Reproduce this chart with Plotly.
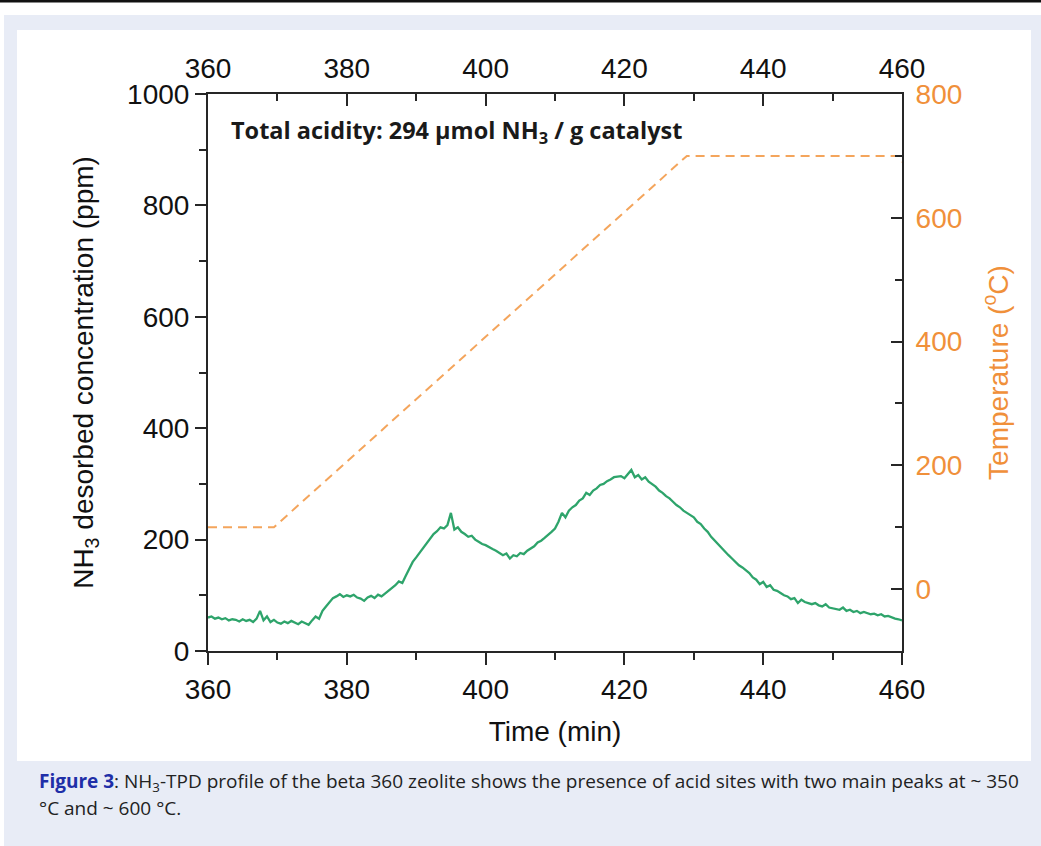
import plotly.graph_objects as go

# ---------------- data ----------------
time_min = [
    360.0, 360.5, 361.0, 361.5, 362.0, 362.5, 363.0, 363.5, 364.0, 364.5,
    365.0, 365.5, 366.0, 366.5, 367.0, 367.5, 368.0, 368.5, 369.0, 369.5,
    370.0, 370.5, 371.0, 371.5, 372.0, 372.5, 373.0, 373.5, 374.0, 374.5,
    375.0, 375.5, 376.0, 376.5, 377.0, 377.5, 378.0, 378.5, 379.0, 379.5,
    380.0, 380.5, 381.0, 381.5, 382.0, 382.5, 383.0, 383.5, 384.0, 384.5,
    385.0, 385.5, 386.0, 386.5, 387.0, 387.5, 388.0, 388.5, 389.0, 389.5,
    390.0, 390.5, 391.0, 391.5, 392.0, 392.5, 393.0, 393.5, 394.0, 394.5,
    395.0, 395.5, 396.0, 396.5, 397.0, 397.5, 398.0, 398.5, 399.0, 399.5,
    400.0, 400.5, 401.0, 401.5, 402.0, 402.5, 403.0, 403.5, 404.0, 404.5,
    405.0, 405.5, 406.0, 406.5, 407.0, 407.5, 408.0, 408.5, 409.0, 409.5,
    410.0, 410.5, 411.0, 411.5, 412.0, 412.5, 413.0, 413.5, 414.0, 414.5,
    415.0, 415.5, 416.0, 416.5, 417.0, 417.5, 418.0, 418.5, 419.0, 419.5,
    420.0, 420.5, 421.0, 421.5, 422.0, 422.5, 423.0, 423.5, 424.0, 424.5,
    425.0, 425.5, 426.0, 426.5, 427.0, 427.5, 428.0, 428.5, 429.0, 429.5,
    430.0, 430.5, 431.0, 431.5, 432.0, 432.5, 433.0, 433.5, 434.0, 434.5,
    435.0, 435.5, 436.0, 436.5, 437.0, 437.5, 438.0, 438.5, 439.0, 439.5,
    440.0, 440.5, 441.0, 441.5, 442.0, 442.5, 443.0, 443.5, 444.0, 444.5,
    445.0, 445.5, 446.0, 446.5, 447.0, 447.5, 448.0, 448.5, 449.0, 449.5,
    450.0, 450.5, 451.0, 451.5, 452.0, 452.5, 453.0, 453.5, 454.0, 454.5,
    455.0, 455.5, 456.0, 456.5, 457.0, 457.5, 458.0, 458.5, 459.0, 459.5,
    460.0,
]
nh3_ppm = [
    60, 62, 58, 60, 57, 59, 55, 57, 56, 53,
    57, 54, 56, 52, 58, 72, 55, 62, 52, 56,
    51, 49, 53, 50, 54, 51, 48, 53, 50, 47,
    55, 62, 58, 72, 80, 88, 95, 98, 102, 97,
    100, 98, 101, 96, 94, 90, 96, 99, 95, 101,
    98, 103, 108, 113, 118, 125, 122, 135, 148, 160,
    168, 176, 185, 192, 200, 210, 215, 222, 220, 226,
    248, 218, 222, 214, 210, 205, 207, 200, 196, 192,
    190, 186, 183, 180, 176, 172, 175, 166, 172, 170,
    176, 174, 180, 184, 188, 195, 198, 203, 208, 214,
    220, 232, 248, 240, 252, 258, 262, 270, 274, 284,
    280, 288, 292, 298, 300, 305, 308, 312, 313, 314,
    310, 318, 325, 312, 316, 308, 312, 304, 300, 295,
    288, 284, 278, 274, 268, 262, 258, 252, 248, 244,
    240, 232, 228, 220, 214, 205, 198, 192, 186, 178,
    172, 166, 160, 154, 150, 145, 140, 132, 128, 120,
    124, 115, 118, 110, 108, 104, 100, 98, 93, 95,
    86, 92, 88, 86, 84, 86, 82, 80, 84, 78,
    77, 76, 74, 78, 72, 74, 70, 72, 68, 70,
    68, 66, 67, 64, 66, 62, 63, 60, 58, 57,
    55,
]
temp_time = [360, 369.5, 429, 459.6, 460]
temp_c = [100, 100, 700, 700, 690]

x_ticks = [360, 380, 400, 420, 440, 460]
y_left_ticks = [0, 200, 400, 600, 800, 1000]
y_right_ticks = [0, 200, 400, 600, 800]

# ---------------- layout geometry (pixels) ----------------
W, H = 1041, 846
L, R, T, B = 208, 902, 94, 651


def px(xp):
    return (xp - L) / (R - L)


def py(yp):
    return (B - yp) / (B - T)


GREEN = "#2ea46b"
ORANGE_LINE = "#f4a55c"
ORANGE_TXT = "#f0903a"
AX = "#262626"
FONT = "Liberation Sans, Arial, sans-serif"

fig = go.Figure()
fig.add_trace(go.Scatter(x=time_min, y=nh3_ppm, mode="lines",
                         line=dict(color=GREEN, width=2.3), xaxis="x", yaxis="y",
                         showlegend=False, hoverinfo="skip"))
fig.add_trace(go.Scatter(x=temp_time, y=temp_c, mode="lines",
                         line=dict(color=ORANGE_LINE, width=2, dash="9px,6px"),
                         xaxis="x", yaxis="y2", showlegend=False, hoverinfo="skip"))
fig.add_trace(go.Scatter(x=[360, 460], y=[None, None], mode="lines",
                         xaxis="x2", yaxis="y", showlegend=False, hoverinfo="skip"))

tickfont = dict(family=FONT, size=28, color="#111111")

fig.update_layout(
    width=W, height=H,
    margin=dict(l=L, r=W - R, t=T, b=H - B, pad=0),
    paper_bgcolor="white", plot_bgcolor="rgba(0,0,0,0)",
    xaxis=dict(range=[360, 460], tickvals=x_ticks, ticks="outside", ticklen=12,
               tickwidth=2, tickcolor=AX, showline=True, linecolor=AX, linewidth=2,
               showgrid=False, zeroline=False, tickfont=tickfont,
               minor=dict(dtick=10, tick0=360, ticks="outside", ticklen=7,
                          tickwidth=2, tickcolor=AX, showgrid=False),
               title=dict(text="Time (min)", font=dict(family=FONT, size=28, color="#111111"),
                          standoff=18)),
    xaxis2=dict(range=[360, 460], overlaying="x", side="top", anchor="y",
                tickvals=x_ticks, ticks="inside", ticklen=12, tickwidth=2,
                tickcolor=AX, showline=True, linecolor=AX, linewidth=2,
                showgrid=False, zeroline=False, tickfont=tickfont,
                ticklabelstandoff=3,
                minor=dict(dtick=10, tick0=360, ticks="inside", ticklen=7,
                           tickwidth=2, tickcolor=AX, showgrid=False)),
    yaxis=dict(range=[0, 1000], tickvals=y_left_ticks, ticks="outside", ticklen=11,
               tickwidth=2, tickcolor=AX, showline=True, linecolor=AX, linewidth=2,
               showgrid=False, zeroline=False, tickfont=tickfont,
               minor=dict(dtick=100, tick0=0, ticks="outside", ticklen=7,
                          tickwidth=2, tickcolor=AX, showgrid=False),
               title=dict(text="NH<sub>3</sub> desorbed concentration (ppm)",
                          font=dict(family=FONT, size=28, color="#111111"), standoff=25)),
    yaxis2=dict(range=[-100, 800], overlaying="y", side="right", anchor="x",
                tickvals=y_right_ticks, ticks="inside", ticklen=11, tickwidth=2,
                tickcolor=AX, showline=True, linecolor=AX, linewidth=2,
                showgrid=False, zeroline=False,
                tickfont=dict(family=FONT, size=28, color=ORANGE_TXT),
                ticklabelstandoff=6,
                minor=dict(dtick=100, tick0=0, ticks="inside", ticklen=7,
                           tickwidth=2, tickcolor=AX, showgrid=False),
                title=dict(text="Temperature (<sup>o</sup>C)",
                           font=dict(family=FONT, size=28, color=ORANGE_TXT), standoff=27)),
)

# background panels
fig.add_shape(type="rect", xref="paper", yref="paper", x0=px(0), x1=px(W),
              y0=py(0), y1=py(2.5), fillcolor="#111111", line_width=0, layer="below")
fig.add_shape(type="rect", xref="paper", yref="paper", x0=px(4), x1=px(W),
              y0=py(15), y1=py(H), fillcolor="#e8ecf6", line_width=0, layer="below")
fig.add_shape(type="rect", xref="paper", yref="paper", x0=px(17), x1=px(1031),
              y0=py(30), y1=py(761), fillcolor="white", line_width=0, layer="below")

fig.add_annotation(xref="paper", yref="paper", x=px(229), y=py(131),
                   xanchor="left", yanchor="middle", showarrow=False,
                   text="<b>Total acidity: 294 µmol NH<sub>3</sub> / g catalyst</b>",
                   font=dict(family="Open Sans, sans-serif", size=23.5, color="#1a1a1a"))

CAP = dict(family="Open Sans, sans-serif", size=19, color="#222222")
fig.add_annotation(xref="paper", yref="paper", x=px(37), y=py(782),
                   xanchor="left", yanchor="middle", showarrow=False, align="left",
                   text=("<span style='color:#1f2fa8'><b>Figure 3</b></span>: NH<sub>3</sub>-TPD profile "
                         "of the beta 360 zeolite shows the presence of acid sites with two main "
                         "peaks at ~ 350"),
                   font=CAP)
fig.add_annotation(xref="paper", yref="paper", x=px(37), y=py(808),
                   xanchor="left", yanchor="middle", showarrow=False, align="left",
                   text="°C and ~ 600 °C.", font=CAP)

fig.write_html("out.html")
